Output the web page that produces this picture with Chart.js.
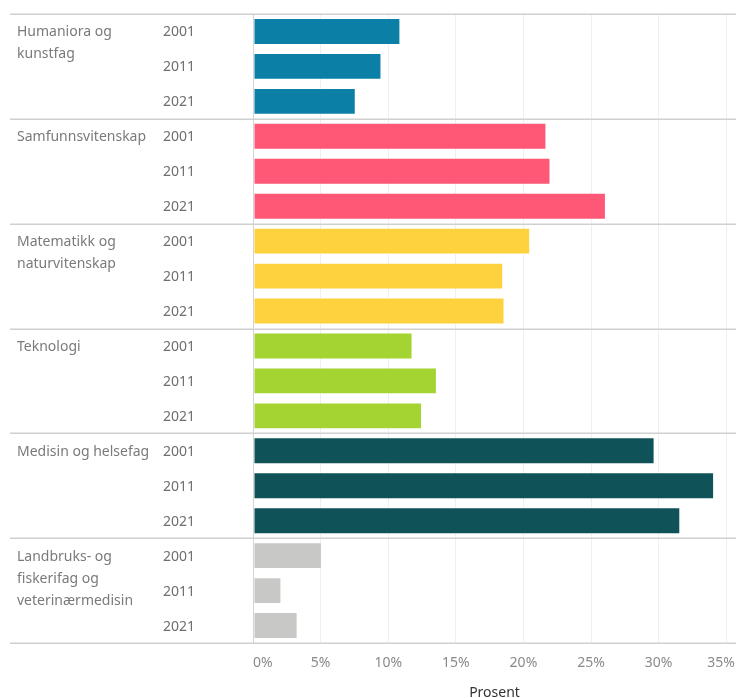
<!DOCTYPE html>
<html>
<head>
<meta charset="utf-8">
<script src="https://cdn.jsdelivr.net/npm/chart.js@4.4.1/dist/chart.umd.min.js"></script>
<style>
  html, body { margin: 0; padding: 0; background: #fff; }
  #wrap { position: relative; width: 736px; height: 698px; }
</style>
</head>
<body>
<div id="wrap"><canvas id="chart"></canvas></div>
<script>
// Fagområder, år og andel (prosent)
const groups = [
  ['Humaniora og', 'kunstfag'],
  ['Samfunnsvitenskap'],
  ['Matematikk og', 'naturvitenskap'],
  ['Teknologi'],
  ['Medisin og helsefag'],
  ['Landbruks- og', 'fiskerifag og', 'veterinærmedisin']
];
const years = ['2001', '2011', '2021'];
const groupColors = ['#0b7fa5', '#ff5776', '#fed23f', '#a4d431', '#0f5257', '#c8c8c6'];

const humaniora   = [10.9, 9.5, 7.6];
const samfunn     = [21.7, 22.0, 26.1];
const matematikk  = [20.5, 18.5, 18.6];
const teknologi   = [11.8, 13.6, 12.5];
const medisin     = [29.7, 34.1, 31.6];
const landbruk    = [5.1, 2.1, 3.3];

const xTicks = [0, 5, 10, 15, 20, 25, 30, 35];

const seriesByGroup = [humaniora, samfunn, matematikk, teknologi, medisin, landbruk];
const rowLabels = [];
const rowValues = [];
const rowColors = [];
seriesByGroup.forEach((vals, g) => {
  vals.forEach((v, i) => {
    rowLabels.push(years[i]);
    rowValues.push(v);
    rowColors.push(groupColors[g]);
  });
});

const FONT = '"Noto Sans", sans-serif';

// tekst til venstre, skillelinjer og x-akseetiketter
const tablePlugin = {
  id: 'tableLayout',
  afterDraw(chart) {
    const ctx = chart.ctx;
    const x = chart.scales.x, y = chart.scales.y;
    const area = chart.chartArea;
    const rowH = (area.bottom - area.top) / rowLabels.length;
    ctx.save();

    // vertikal akselinje ved 0
    ctx.strokeStyle = '#d4d4d4';
    ctx.lineWidth = 1;
    ctx.beginPath();
    ctx.moveTo(Math.round(x.getPixelForValue(0)) + 0.5, area.top);
    ctx.lineTo(Math.round(x.getPixelForValue(0)) + 0.5, area.bottom);
    ctx.stroke();

    // skillelinjer mellom grupper
    ctx.strokeStyle = '#d0d0d0';
    ctx.lineWidth = 1.5;
    for (let g = 0; g <= groups.length; g++) {
      const yy = Math.round(area.top + g * 3 * rowH) + 0.25;
      ctx.beginPath();
      ctx.moveTo(10, yy);
      ctx.lineTo(chart.width, yy);
      ctx.stroke();
    }

    // årstall
    ctx.font = '14px ' + FONT;
    ctx.textBaseline = 'middle';
    ctx.textAlign = 'left';
    ctx.fillStyle = '#6e6e6e';
    rowLabels.forEach((lab, i) => {
      ctx.fillText(lab, 163, y.getPixelForValue(i) + 1);
    });

    // gruppenavn
    ctx.fillStyle = '#7a7a7a';
    groups.forEach((lines, g) => {
      const y0 = y.getPixelForValue(g * 3) + 1;
      lines.forEach((ln, k) => ctx.fillText(ln, 17, y0 + k * 22));
    });

    // x-akse etiketter
    ctx.fillStyle = '#8a8a8a';
    xTicks.forEach((t, i) => {
      const px = x.getPixelForValue(t);
      let align = 'center', tx = px;
      if (i === 0) align = 'left';
      if (i === xTicks.length - 1) { align = 'right'; tx = chart.width - 1; }
      ctx.textAlign = align;
      ctx.fillText(t + '%', tx, area.bottom + 20);
    });

    // aksetittel
    ctx.fillStyle = '#333';
    ctx.textAlign = 'center';
    ctx.font = '14px ' + FONT;
    ctx.fillText('Prosent', (area.left + area.right) / 2, area.bottom + 50);
    ctx.restore();
  }
};

new Chart(document.getElementById('chart'), {
  type: 'bar',
  data: {
    labels: rowLabels,
    datasets: [{
      data: rowValues,
      backgroundColor: rowColors,
      borderColor: 'rgba(255,255,255,0.35)',
      borderWidth: 1,
      borderSkipped: false,
      categoryPercentage: 1,
      barPercentage: 0.77
    }]
  },
  options: {
    indexAxis: 'y',
    responsive: true,
    maintainAspectRatio: false,
    animation: false,
    layout: { padding: { left: 253, top: 14, right: 0, bottom: 0 } },
    plugins: { legend: { display: false }, tooltip: { enabled: false } },
    scales: {
      x: {
        min: 0,
        max: 35.72,
        afterBuildTicks: s => { s.ticks = xTicks.map(v => ({ value: v })); },
        afterFit: s => { s.height = 55; },
        grid: { color: '#efefef', lineWidth: 1, drawTicks: false },
        border: { display: false },
        ticks: { display: false }
      },
      y: { display: false }
    }
  },
  plugins: [tablePlugin]
});
</script>
</body>
</html>
